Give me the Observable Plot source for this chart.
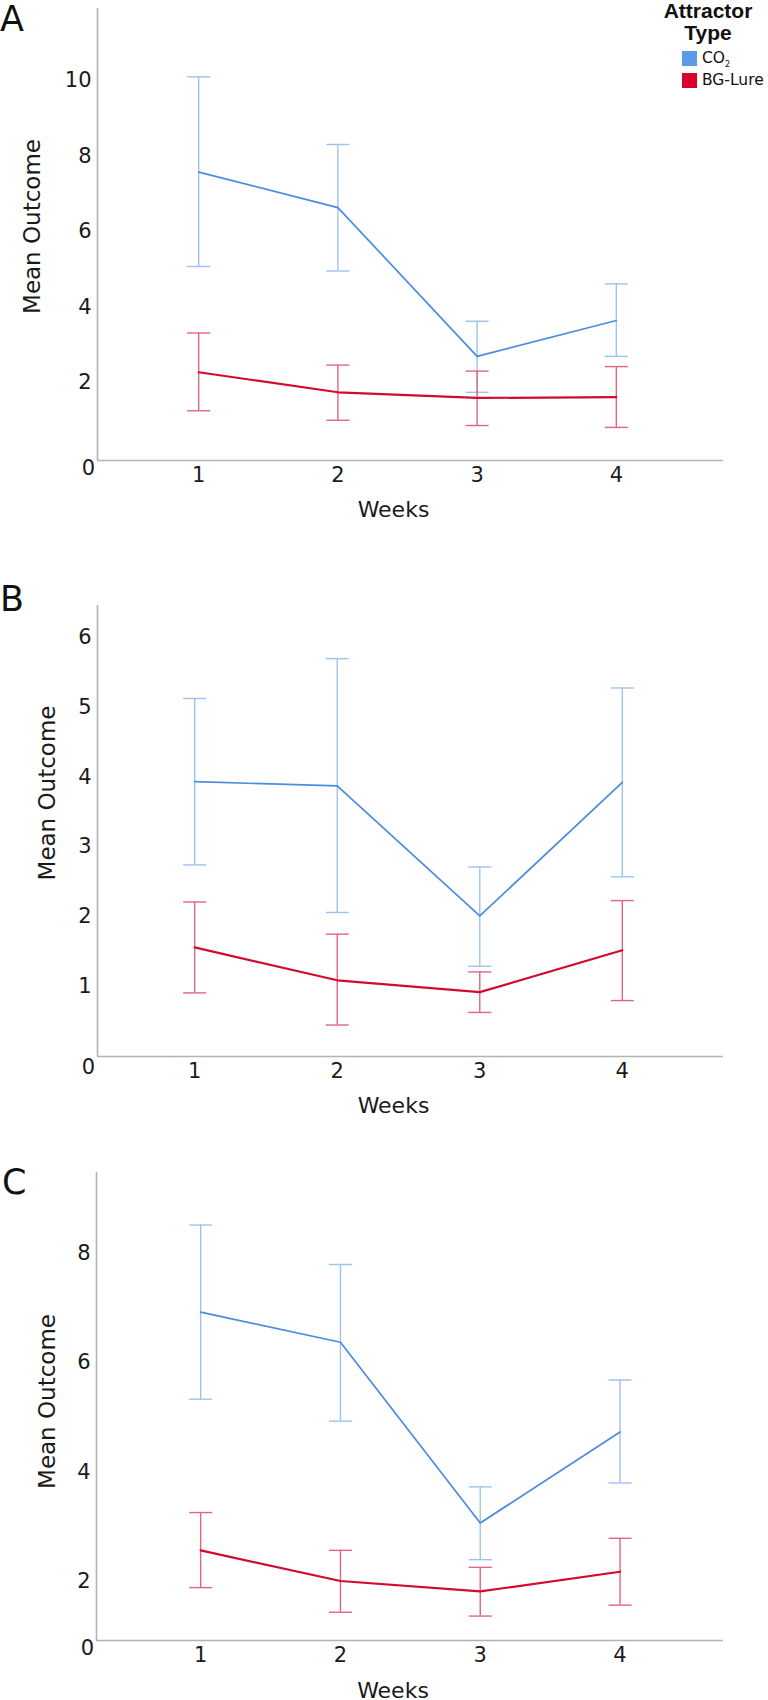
<!DOCTYPE html>
<html><head><meta charset="utf-8">
<script src="https://cdn.jsdelivr.net/npm/d3@7"></script>
<script src="https://cdn.jsdelivr.net/npm/@observablehq/plot@0.6"></script>
<style>
body{margin:0;background:#fff;width:768px;height:1700px;position:relative;overflow:hidden;font-family:"DejaVu Sans",sans-serif;color:#1a1a1a;}
.panel{position:absolute;left:0;}
.letter{position:absolute;left:0;font-size:35px;line-height:35px;color:#111;}
.legtitle{position:absolute;left:648px;top:0px;width:120px;text-align:center;font-family:"Liberation Sans",Arial,sans-serif;font-weight:bold;font-size:21px;line-height:22px;color:#111;}
.sw{position:absolute;left:682px;width:15px;height:15px;}
.lt{position:absolute;left:702px;font-size:15.5px;line-height:16px;color:#111;white-space:nowrap;}
.lt sub{font-size:8px;vertical-align:-4px;}
</style></head><body>
<div class="letter" style="left:0;top:2px">A</div>
<div class="letter" style="left:0;top:582px">B</div>
<div class="letter" style="left:2px;top:1165px">C</div>
<div class="legtitle">Attractor<br>Type</div>
<div class="sw" id="sw1" style="top:51px"></div>
<div class="lt" style="top:50px">CO<sub>2</sub></div>
<div class="sw" id="sw2" style="top:73px"></div>
<div class="lt" style="top:72px">BG-Lure</div>
<div id="A" class="panel" style="top:0px"></div>
<div id="B" class="panel" style="top:590px"></div>
<div id="C" class="panel" style="top:1160px"></div>
<script>
// ---------- data ----------
const weeks = [1, 2, 3, 4];
const seriesNames = ["CO2", "BG-Lure"];

// Panel A
const A_co2Mean = [7.57, 6.63, 2.69, 3.64];
const A_co2Lo   = [5.07, 4.95, 1.74, 2.69];
const A_co2Hi   = [10.09, 8.30, 3.62, 4.61];
const A_bgMean  = [2.27, 1.74, 1.59, 1.61];
const A_bgLo    = [1.25, 1.00, 0.86, 0.81];
const A_bgHi    = [3.31, 2.46, 2.30, 2.42];
const A_yTicks  = [2, 4, 6, 8, 10];

// Panel B
const B_co2Mean = [3.93, 3.87, 2.01, 3.92];
const B_co2Lo   = [2.74, 2.06, 1.29, 2.57];
const B_co2Hi   = [5.12, 5.69, 2.71, 5.27];
const B_bgMean  = [1.56, 1.09, 0.92, 1.52];
const B_bgLo    = [0.91, 0.45, 0.63, 0.80];
const B_bgHi    = [2.21, 1.75, 1.21, 2.23];
const B_yTicks  = [1, 2, 3, 4, 5, 6];

// Panel C
const C_co2Mean = [6.92, 6.37, 3.07, 4.73];
const C_co2Lo   = [5.33, 4.93, 2.40, 3.80];
const C_co2Hi   = [8.51, 7.79, 3.73, 5.68];
const C_bgMean  = [2.57, 2.01, 1.82, 2.18];
const C_bgLo    = [1.89, 1.44, 1.37, 1.57];
const C_bgHi    = [3.26, 2.57, 2.26, 2.79];
const C_yTicks  = [2, 4, 6, 8];

const zeroLabel = "0";
const xTitle = "Weeks";
const yTitle = "Mean Outcome";

// ---------- styles ----------
const lineColor = {"CO2": "#4a8ce0", "BG-Lure": "#d20a2e"};
const errColor  = {"CO2": "#9ec2ef", "BG-Lure": "#e06580"};
const swatch    = {"CO2": "#5a9ae6", "BG-Lure": "#d8002c"};
const lineWidth = {"CO2": 1.7, "BG-Lure": 2.2};
document.getElementById("sw1").style.background = swatch["CO2"];
document.getElementById("sw2").style.background = swatch["BG-Lure"];

const capSymbol = {draw(ctx, size) { const w = Math.sqrt(size / Math.PI); ctx.moveTo(-w, 0); ctx.lineTo(w, 0); }};

function rowsFor(name, mean, lo, hi) {
  return weeks.map((w, i) => ({week: w, series: name, mean: mean[i], lo: lo[i], hi: hi[i]}));
}

function panel(o) {
  const series = [rowsFor("CO2", o.co2Mean, o.co2Lo, o.co2Hi), rowsFor("BG-Lure", o.bgMean, o.bgLo, o.bgHi)];
  const marks = [
    Plot.ruleX([o.xDomain[0]], {stroke: "#b3b3b3", strokeWidth: 1.6}),
    Plot.ruleY([o.yDomain[0]], {stroke: "#b3b3b3", strokeWidth: 1.6})
  ];
  for (const rows of series) {
    const s = rows[0].series;
    marks.push(
      Plot.ruleX(rows, {x: "week", y1: "lo", y2: "hi", stroke: errColor[s], strokeWidth: 1.4}),
      Plot.dot(rows, {x: "week", y: "hi", symbol: capSymbol, r: 11.5, stroke: errColor[s], strokeWidth: 1.4, fill: "none"}),
      Plot.dot(rows, {x: "week", y: "lo", symbol: capSymbol, r: 11.5, stroke: errColor[s], strokeWidth: 1.4, fill: "none"})
    );
  }
  for (const rows of series) {
    const s = rows[0].series;
    marks.push(Plot.line(rows, {x: "week", y: "mean", stroke: lineColor[s], strokeWidth: lineWidth[s]}));
  }
  marks.push(
    Plot.axisY({ticks: o.yTicks, tickSize: 0, tickPadding: 6, label: null, fontSize: 21, tickFormat: d => String(d)}),
    Plot.axisX({ticks: weeks, tickSize: 0, tickPadding: 7, label: null, fontSize: 21, tickFormat: d => String(d)}),
    Plot.text([zeroLabel], {frameAnchor: "bottom-left", textAnchor: "middle", lineAnchor: "middle", dx: -9, dy: o.zeroDy, fontSize: 21, fill: "#1a1a1a"}),
    Plot.text([xTitle], {frameAnchor: "bottom", textAnchor: "middle", lineAnchor: "middle", dx: -17, dy: o.xTitleDy, fontSize: 22, fill: "#1a1a1a"}),
    Plot.text([yTitle], {frameAnchor: "left", textAnchor: "middle", lineAnchor: "middle", rotate: -90, dx: o.yTitleDx, dy: o.yTitleDy, fontSize: 23, fill: "#1a1a1a"})
  );
  const chart = Plot.plot({
    width: 768, height: o.height,
    marginTop: o.mt, marginBottom: o.mb, marginLeft: o.ml, marginRight: 45,
    x: {type: "linear", domain: o.xDomain},
    y: {type: "linear", domain: o.yDomain},
    style: {fontFamily: "DejaVu Sans", fontSize: "21px", color: "#1a1a1a", background: "transparent", overflow: "visible"},
    marks
  });
  document.getElementById(o.id).appendChild(chart);
}

panel({id: "A", height: 530, mt: 8, mb: 70, ml: 97, xDomain: [0.273, 4.77], yDomain: [-0.066, 11.9], yTicks: A_yTicks,
  co2Mean: A_co2Mean, co2Lo: A_co2Lo, co2Hi: A_co2Hi, bgMean: A_bgMean, bgLo: A_bgLo, bgHi: A_bgHi,
  zeroDy: 8, xTitleDy: 49, yTitleDx: -65, yTitleDy: -8});
panel({id: "B", height: 536, mt: 15, mb: 70, ml: 97, xDomain: [0.318, 4.71], yDomain: [0, 6.45], yTicks: B_yTicks,
  co2Mean: B_co2Mean, co2Lo: B_co2Lo, co2Hi: B_co2Hi, bgMean: B_bgMean, bgLo: B_bgLo, bgHi: B_bgHi,
  zeroDy: 11, xTitleDy: 49, yTitleDx: -50, yTitleDy: -38});
panel({id: "C", height: 540, mt: 12, mb: 60, ml: 96, xDomain: [0.255, 4.74], yDomain: [0.924, 9.47], yTicks: C_yTicks,
  co2Mean: C_co2Mean, co2Lo: C_co2Lo, co2Hi: C_co2Hi, bgMean: C_bgMean, bgLo: C_bgLo, bgHi: C_bgHi,
  zeroDy: 8, xTitleDy: 50, yTitleDx: -49, yTitleDy: -5});
</script>
</body></html>
